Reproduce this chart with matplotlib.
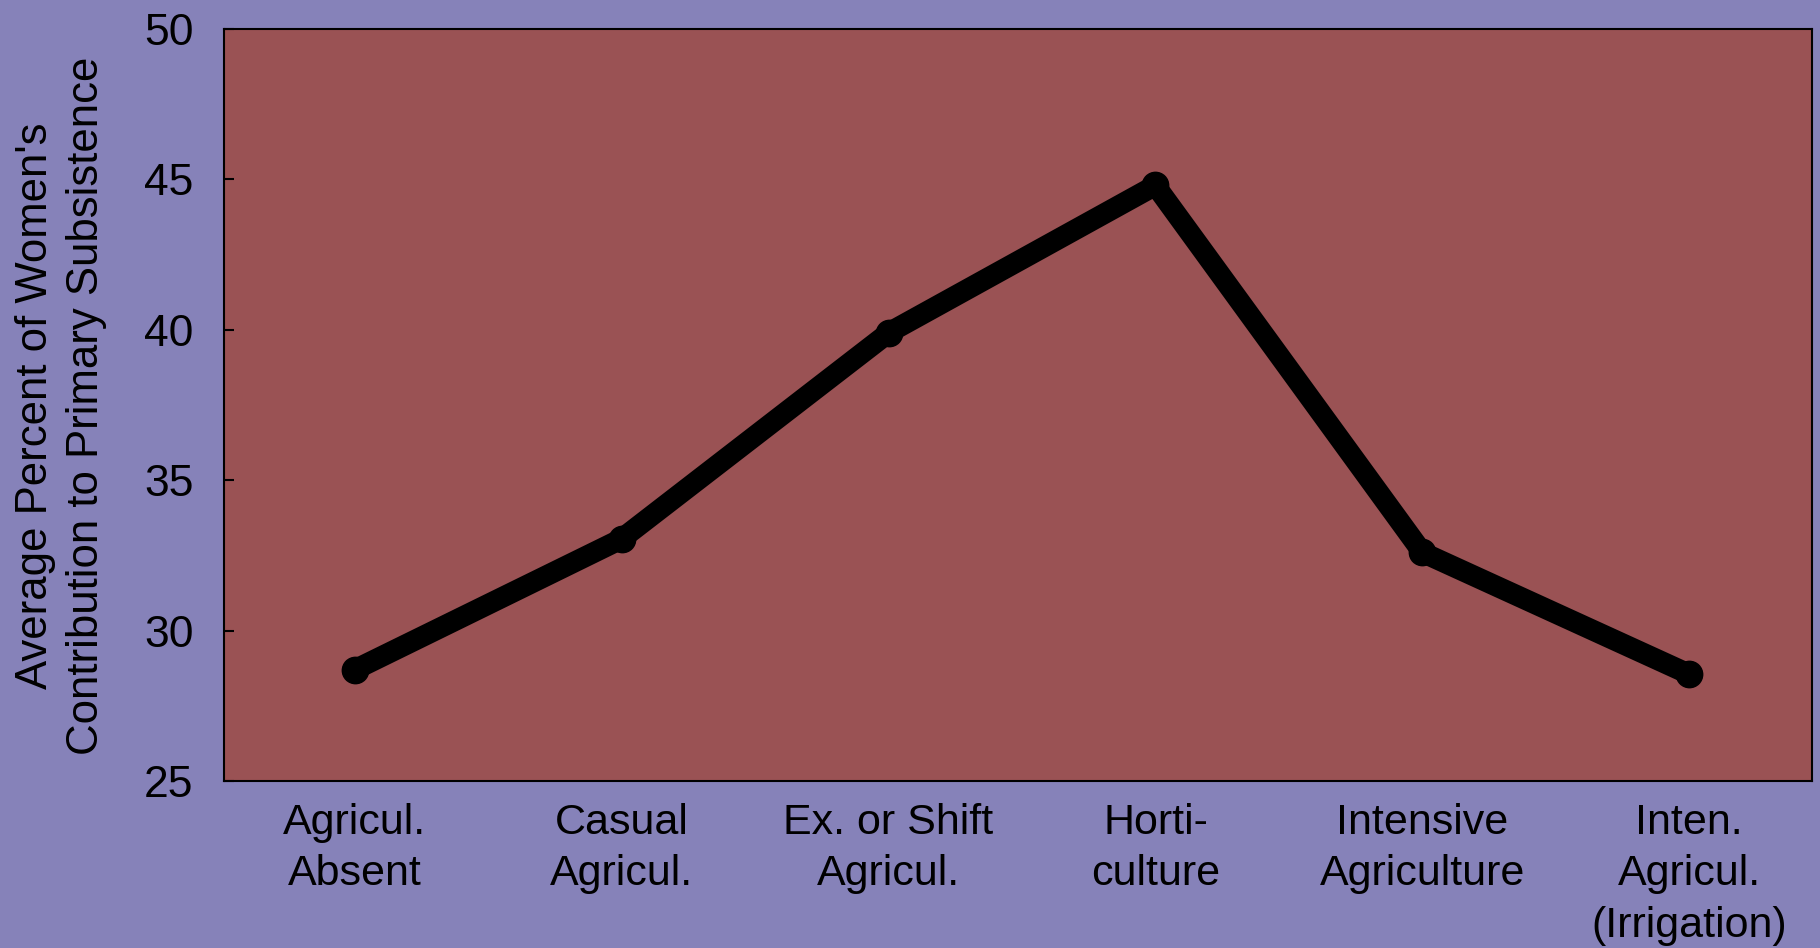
import numpy as np
import matplotlib.pyplot as plt

plt.rcParams['font.family'] = ['Liberation Sans', 'DejaVu Sans']

# data
categories = ["Agricul.\nAbsent", "Casual\nAgricul.", "Ex. or Shift\nAgricul.",
              "Horti-\nculture", "Intensive\nAgriculture", "Inten.\nAgricul.\n(Irrigation)"]
women_pct = [28.7, 33.05, 39.9, 44.8, 32.6, 28.55]
yticks = [25, 30, 35, 40, 45, 50]

bg_color = np.array([134, 130, 185]) / 255
panel_color = np.array([154, 82, 84]) / 255

fig = plt.figure(figsize=(18.2, 9.48), dpi=100, facecolor=bg_color)
ax = fig.add_axes([224 / 1820, 1 - 781 / 948, (1812 - 224) / 1820, (781 - 29) / 948])
ax.set_facecolor(panel_color)

x = np.arange(len(categories))
ax.plot(x, women_pct, color='black', lw=15, marker='o', ms=19,
        solid_joinstyle='round', solid_capstyle='round')

ax.set_xlim(-0.49, 5.46)
ax.set_ylim(25, 50)
ax.set_yticks(yticks)
ax.set_xticks(x)
ax.set_xticklabels(categories, fontsize=31, linespacing=1.36, va='top')
ax.tick_params(axis='y', direction='in', length=7, width=1.5, pad=22, labelsize=32)
ax.tick_params(axis='x', length=0, pad=16)
for s in ax.spines.values():
    s.set_linewidth(1.5)

fig.text(61 / 1820, 1 - 406 / 948,
         "Average Percent of Women's\nContribution to Primary Subsistence",
         rotation=90, fontsize=31.5, linespacing=1.33, ha='center', va='center')

fig.savefig('out.png', dpi=100, facecolor=bg_color)
